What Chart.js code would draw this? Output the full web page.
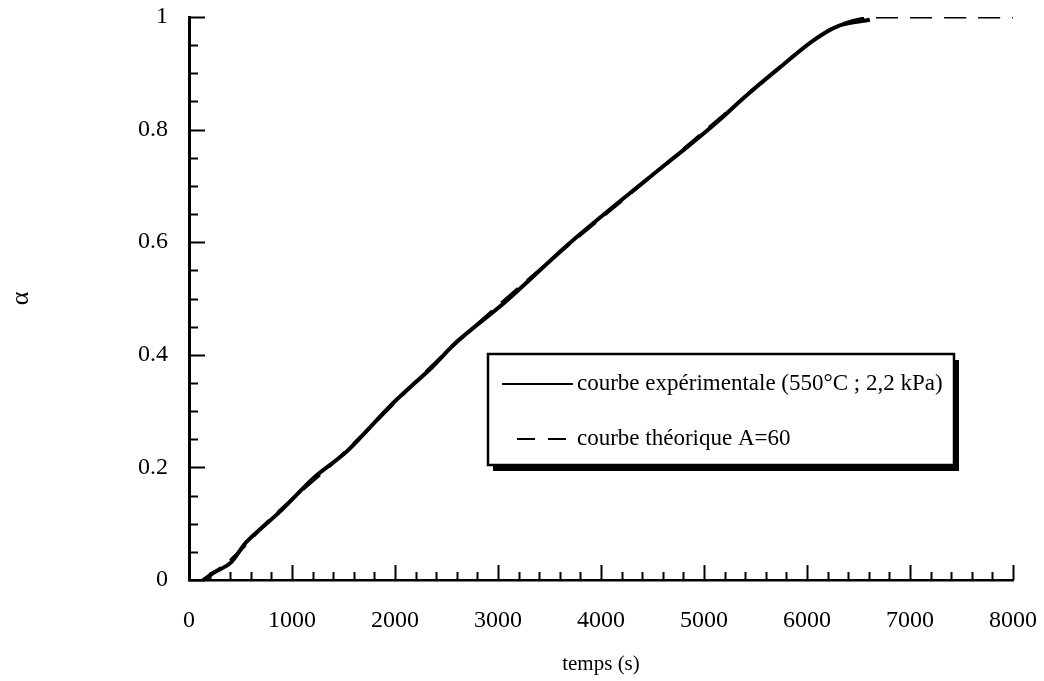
<!DOCTYPE html>
<html lang="fr">
<head>
<meta charset="utf-8">
<title>alpha en fonction du temps</title>
<script src="https://cdn.jsdelivr.net/npm/chart.js@4.4.1/dist/chart.umd.min.js"></script>
<style>
    html, body { margin: 0; padding: 0; background: #fff; }
    #chartBox { width: 1044px; height: 681px; }
</style>
</head>
<body>
<div id="chartBox"><canvas id="alphaChart" width="1044" height="681"></canvas></div>
<script>
// Values
const expTime  = [150, 230, 400, 560, 880, 1220, 1530, 1980, 2360, 2600, 3090, 3700, 4300, 4830, 5125, 5420, 5740, 6060, 6320, 6610];
const expAlpha = [0, 0.012, 0.03, 0.068, 0.121, 0.183, 0.228, 0.314, 0.378, 0.423, 0.497, 0.599, 0.69, 0.768, 0.813, 0.862, 0.911, 0.958, 0.985, 0.995];

const theoTime  = [130, 400, 800, 1500, 2500, 3500, 4500, 5500, 6000, 6300, 6650, 8000];
const theoAlpha = [0, 0.035, 0.11, 0.225, 0.405, 0.566, 0.719, 0.874, 0.95, 0.985, 1, 1];

const xTickLabels = ['0', '1000', '2000', '3000', '4000', '5000', '6000', '7000', '8000'];
const yTickLabels = ['0', '0.2', '0.4', '0.6', '0.8', '1'];

const seriesLabels = ['courbe expérimentale (550°C ; 2,2 kPa)', 'courbe théorique A=60'];

const SERIF = '"Liberation Serif", "Times New Roman", serif';

function toPoints(xs, ys) {
    return xs.map((t, i) => ({ x: t, y: ys[i] }));
}

// Tick marks pointing into the plot, minor + major
const inwardTicks = {
    id: 'inwardTicks',
    afterDraw(chart) {
        const { ctx } = chart;
        const x = chart.scales.x;
        const y = chart.scales.y;
        ctx.save();
        ctx.strokeStyle = '#000';
        ctx.lineWidth = 2;

        for (let i = 0; i <= 20; i++) {
            const py = Math.round(y.getPixelForValue(i * 0.05)) + 0.5;
            const len = i % 4 === 0 ? 16 : 9;
            ctx.beginPath();
            ctx.moveTo(x.left, py);
            ctx.lineTo(x.left + len, py);
            ctx.stroke();
        }

        for (let i = 0; i <= 40; i++) {
            const px = Math.round(x.getPixelForValue(i * 200)) + 0.5;
            const len = i % 5 === 0 ? 15 : 8;
            ctx.beginPath();
            ctx.moveTo(px, y.bottom);
            ctx.lineTo(px, y.bottom - len);
            ctx.stroke();
        }
        ctx.restore();
    }
};

// Framed legend with a drop shadow, inside the plot
const boxLegend = {
    id: 'boxLegend',
    afterDraw(chart) {
        const { ctx } = chart;
        const left = 488, top = 354, w = 466, h = 111;

        ctx.save();
        ctx.fillStyle = '#000';
        ctx.fillRect(left + 5, top + 6, w, h);
        ctx.fillStyle = '#fff';
        ctx.fillRect(left, top, w, h);
        ctx.strokeStyle = '#000';
        ctx.lineWidth = 2.5;
        ctx.strokeRect(left, top, w, h);

        ctx.font = '23px ' + SERIF;
        ctx.fillStyle = '#000';
        ctx.textBaseline = 'middle';

        const rows = [384, 439];
        chart.data.datasets.forEach((ds, i) => {
            ctx.beginPath();
            ctx.lineWidth = 2;
            if (ds.borderDash) {
                ctx.setLineDash([18, 13]);
                ctx.moveTo(517, rows[i]);
                ctx.lineTo(570, rows[i]);
            } else {
                ctx.moveTo(502, rows[i]);
                ctx.lineTo(573, rows[i]);
            }
            ctx.stroke();
            ctx.setLineDash([]);
            ctx.fillText(ds.label, 577, rows[i]);
        });
        ctx.restore();
    }
};

function buildChart() {
    Chart.defaults.font.family = SERIF;
    Chart.defaults.font.size = 24;
    Chart.defaults.color = '#000';

    return new Chart(document.getElementById('alphaChart'), {
        type: 'scatter',
        data: {
            datasets: [
                {
                    label: seriesLabels[0],
                    data: toPoints(expTime, expAlpha),
                    showLine: true,
                    borderColor: '#000',
                    borderWidth: 4,
                    pointRadius: 0,
                    tension: 0.3
                },
                {
                    label: seriesLabels[1],
                    data: toPoints(theoTime, theoAlpha),
                    showLine: true,
                    borderColor: '#000',
                    borderWidth: 3,
                    borderDash: [22, 12],
                    pointRadius: 0,
                    tension: 0.3
                }
            ]
        },
        options: {
            responsive: false,
            animation: false,
            layout: {
                padding: { top: 17, right: 31, left: 0, bottom: 0 }
            },
            plugins: {
                legend: { display: false },
                tooltip: { enabled: false }
            },
            scales: {
                x: {
                    type: 'linear',
                    min: 0,
                    max: 8000,
                    grid: { display: false, drawTicks: false },
                    border: { display: true, color: '#000', width: 2.5 },
                    ticks: {
                        stepSize: 1000,
                        padding: 26,
                        maxRotation: 0,
                        autoSkip: false,
                        callback: (v, i) => xTickLabels[i]
                    },
                    title: {
                        display: true,
                        text: 'temps (s)',
                        font: { size: 21 },
                        padding: { top: 0, bottom: 4 }
                    },
                    afterFit: (scale) => {
                        scale.height = 101;
                        scale.paddingLeft = 0;
                        scale.paddingRight = 0;
                    }
                },
                y: {
                    type: 'linear',
                    min: 0,
                    max: 1,
                    grid: { display: false, drawTicks: false },
                    border: { display: true, color: '#000', width: 3 },
                    ticks: {
                        stepSize: 0.2,
                        padding: 21,
                        callback: (v, i) => yTickLabels[i]
                    },
                    title: {
                        display: true,
                        text: 'α',
                        font: { size: 26 },
                        padding: { top: 6, bottom: 0 }
                    },
                    afterFit: (scale) => {
                        scale.width = 189;
                        scale.paddingTop = 0;
                        scale.paddingBottom = 0;
                    }
                }
            }
        },
        plugins: [inwardTicks, boxLegend]
    });
}

document.addEventListener('DOMContentLoaded', () => {
    buildChart();
});
</script>
</body>
</html>
